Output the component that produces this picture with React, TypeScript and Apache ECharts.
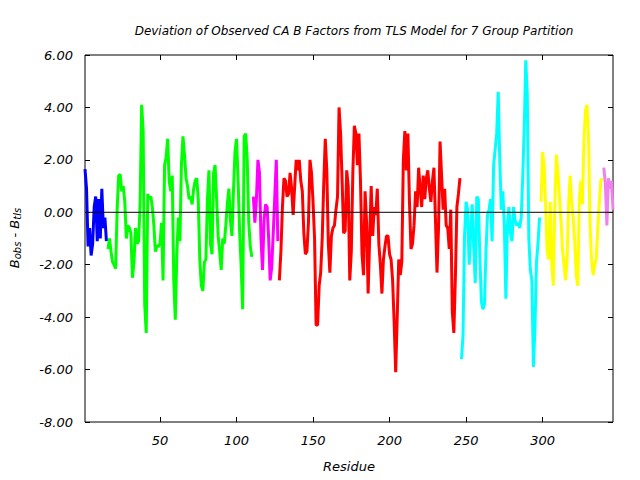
import React, { useEffect, useRef } from "react";
import * as echarts from "echarts";

const chartTitle = "Deviation of Observed CA B Factors from TLS Model for 7 Group Partition";
const xName = "Residue";
const xMin = 1;
const xMax = 346;
const xTicks = [50, 100, 150, 200, 250, 300];
const yMin = -8;
const yMax = 6;
const yStep = 2;

const blueStart = 1;
const blueVals = [1.65, 0.9, -1.3, -0.6, -1.65, -1.2, 0.2, 0.6, -1.1, 0.5, -1.0, 0.9, -0.6, -0.2, -1.1];

const greenStart = 16;
const greenVals = [
  -1.4, -1.0, -1.5, -1.9, -2.0, -2.15, 0.1, 1.4, 1.45, 0.8,
  1.0, 0.4, -1.0, -0.5, -0.6, -0.8, -2.5, -1.9, -0.6, -1.2,
  -1.1, 0.3, 4.1, 3.1, -3.5, -4.6, 0.7, 0.5, 0.6, 0.2,
  -0.5, -1.5, -1.3, -1.3, -1.2, -0.4, -2.6, 1.8, 2.1, 2.8,
  1.2, 0.8, 1.4, -2.6, -4.1, -1.6, -0.2, -1.1, 1.8, 2.9,
  2.2, 1.3, 1.0, 0.5, 0.6, 0.3, 0.9, 1.2, 1.3, 0.5,
  -1.8, -2.8, -3.0, -1.9, -1.8, 0.5, 1.6, -1.2, -1.6, 1.5,
  1.8, 0.5, -0.9, -1.5, -2.2, -1.0, -1.2, -0.5, 0.3, 0.9,
  -0.3, -0.9, 0.8, 2.3, 2.8, 1.3, -0.7, -2.0, -3.7, 2.9,
  3.0, 2.0, -0.4, -1.3, -1.7,
];

const magentaStart = 111;
const magentaVals = [0.6, -0.4, 0.5, 2.0, 1.5, -1.0, -2.2, -0.3, 0.3, 0.2, -1.0, -2.6, -2.1, -0.8, 0.6, 2.0, -1.1];

const redStart = 128;
const redVals = [
  -2.6, -1.5, 0.2, 1.3, 1.2, 0.6, 0.7, 1.5, 0.9, -0.1,
  1.0, 2.0, 1.6, 2.0, 1.2, 0.8, -0.8, -1.6, -1.5, -0.4,
  2.0, 1.5, 0.4, -1.0, -4.3, -4.3, -2.8, -2.3, -1.0, 1.1,
  2.8, 1.6, -1.2, -2.3, -0.9, -0.6, -0.5, 0.1, 0.6, 4.0,
  3.0, 1.2, -0.8, -0.7, 1.6, 1.0, -2.6, -1.5, 1.5, 3.3,
  3.0, 1.8, 3.0, 1.2, -1.6, -2.4, 0.8, -0.4, -3.1, -1.0,
  1.0, -0.9, 0.2, -0.1, 0.9, -1.2, -2.0, -3.1, -1.8, -1.3,
  -0.9, -0.9, -1.6, -1.8, -2.6, -4.2, -6.1, -4.0, -1.8, -2.4,
  -1.9, 2.0, 3.1, 1.6, 3.0, 0.4, -1.4, -1.2, -0.5, 0.8,
  0.2, 1.7, 0.9, 0.2, 1.4, 0.5, 1.3, 1.6, 0.9, 0.4,
  1.2, 1.7, -0.3, -2.3, -0.6, 2.7, 1.4, 0.1, 0.9, -0.5,
  -0.6, -1.4, 0.1, -3.8, -4.6, -2.5, 0.2, 0.7, 1.3,
];

const cyanStart = 247;
const cyanVals = [
  -5.6, -4.7, -0.9, 0.4, 0.1, -2.0, -0.8, 0.3, -1.3, -2.7,
  0.6, 0.5, -1.7, -3.4, -3.7, -3.5, -1.5, -0.1, 0.1, 0.5,
  -1.1, 1.8, 2.4, 3.0, 4.6, 2.0, 0.1, 0.8, -0.5, -3.3,
  -0.5, 0.2, -0.8, -1.1, 0.2, -0.3, -0.5, -0.4, -0.6, -0.2,
  1.3, 3.2, 5.8, 4.5, -1.0, -2.2, -2.6, -5.9, -4.4, -1.9,
  -1.2, -0.2,
];

const yellowStart = 299;
const yellowVals = [
  0.4, 2.3, 1.8, 0.2, -1.5, -1.8, 0.4, -2.0, -2.8, 0.3,
  2.2, 1.5, 0.6, -0.3, -1.4, -2.0, -2.6, -1.8, 0.3, 1.4,
  0.4, -0.2, -1.1, -2.4, -2.8, 0.5, 1.2, 0.3, 2.7, 3.9,
  4.1, 2.9, -0.5, -1.8, -2.4, -2.0, -1.8, -0.7, 0.3, 1.2,
  1.3,
];

const violetStart = 340;
const violetVals = [1.7, 1.1, -0.5, 1.3, 0.9, 1.2, 0.1];

const groups = [
  { name: "Group 1", start: blueStart, vals: blueVals, color: "#0000ff" },
  { name: "Group 2", start: greenStart, vals: greenVals, color: "#00ff00" },
  { name: "Group 3", start: magentaStart, vals: magentaVals, color: "#ff00ff" },
  { name: "Group 4", start: redStart, vals: redVals, color: "#ff0000" },
  { name: "Group 5", start: cyanStart, vals: cyanVals, color: "#00ffff" },
  { name: "Group 6", start: yellowStart, vals: yellowVals, color: "#ffff00" },
  { name: "Group 7", start: violetStart, vals: violetVals, color: "#f080f0" },
];

const FONT = "DejaVu Sans";

export default function App() {
  const ref = useRef<HTMLDivElement>(null);
  useEffect(() => {
    if (!ref.current) return;
    const chart = echarts.init(ref.current, undefined, { renderer: "svg" });
    const labelStyle = {
      fontFamily: FONT,
      fontStyle: "italic" as const,
      fontSize: 13,
      color: "#000",
    };
    const tickStyle = { color: "#000", width: 1 };
    const series: any[] = groups.map((g) => ({
      name: g.name,
      type: "line",
      xAxisIndex: 0,
      yAxisIndex: 0,
      showSymbol: false,
      symbol: "none",
      data: g.vals.map((v, i) => [g.start + i, v]),
      lineStyle: { color: g.color, width: 3 },
      itemStyle: { color: g.color },
      z: 2,
    }));
    series.push({
      name: "zero",
      type: "line",
      xAxisIndex: 0,
      yAxisIndex: 0,
      showSymbol: false,
      symbol: "none",
      data: [
        [xMin, 0],
        [xMax, 0],
      ],
      lineStyle: { color: "#000", width: 1 },
      z: 5,
    });
    chart.setOption({
      animation: false,
      backgroundColor: "#fff",
      title: {
        text: chartTitle,
        left: 349,
        top: 20,
        textAlign: "center",
        textStyle: { ...labelStyle, fontWeight: "normal", fontSize: 12 },
      },
      grid: {
        left: 85,
        right: 27,
        top: 55,
        bottom: 58,
        show: true,
        borderColor: "#000",
        borderWidth: 1,
      },
      xAxis: [
        {
          type: "value",
          position: "bottom",
          min: xMin,
          max: xMax,
          name: xName,
          nameLocation: "middle",
          nameGap: 38,
          nameTextStyle: labelStyle,
          axisLine: { show: false, onZero: false },
          axisTick: { show: true, inside: true, length: 5, customValues: xTicks, lineStyle: tickStyle },
          axisLabel: { customValues: xTicks, margin: 12, ...labelStyle },
          splitLine: { show: false },
        },
        {
          type: "value",
          position: "top",
          min: xMin,
          max: xMax,
          axisLine: { show: false, onZero: false },
          axisTick: { show: true, inside: true, length: 5, customValues: xTicks, lineStyle: tickStyle },
          axisLabel: { show: false },
          splitLine: { show: false },
        },
      ],
      yAxis: [
        {
          type: "value",
          position: "left",
          min: yMin,
          max: yMax,
          interval: yStep,
          axisLine: { show: false, onZero: false },
          axisTick: { show: true, inside: true, length: 5, lineStyle: tickStyle },
          axisLabel: { margin: 12, formatter: (v: number) => v.toFixed(2), ...labelStyle },
          splitLine: { show: false },
        },
        {
          type: "value",
          position: "right",
          min: yMin,
          max: yMax,
          interval: yStep,
          axisLine: { show: false, onZero: false },
          axisTick: { show: true, inside: true, length: 5, lineStyle: tickStyle },
          axisLabel: { show: false },
          splitLine: { show: false },
        },
      ],
      graphic: [
        {
          type: "text",
          x: 15,
          y: 238,
          rotation: Math.PI / 2,
          style: {
            text: "{b|B}{s|obs}{b| - B}{s|tls}",
            align: "center",
            verticalAlign: "middle",
            fill: "#000",
            rich: {
              b: {
                fontFamily: FONT,
                fontStyle: "italic",
                fontSize: 13,
                lineHeight: 15,
                verticalAlign: "top",
                padding: [0, 0, 5, 0],
                fill: "#000",
              },
              s: {
                fontFamily: FONT,
                fontStyle: "italic",
                fontSize: 10,
                lineHeight: 11,
                verticalAlign: "bottom",
                fill: "#000",
              },
            },
          },
        },
      ],
      series,
    });
    return () => chart.dispose();
  }, []);
  return (
    <div
      ref={ref}
      style={{ position: "absolute", left: 0, top: 0, width: 640, height: 480 }}
    />
  );
}
